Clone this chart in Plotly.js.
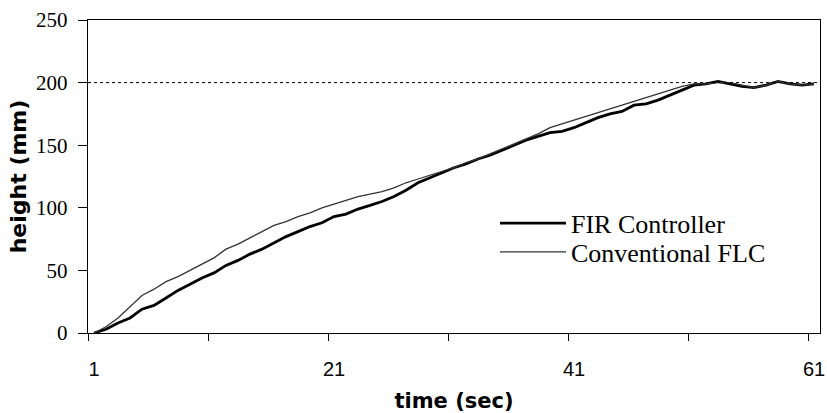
<!DOCTYPE html>
<html>
<head>
<meta charset="utf-8">
<script src="https://cdn.plot.ly/plotly-3.0.1.min.js"></script>
<style>html,body{margin:0;padding:0;background:#fff;}#chart{width:827px;height:413px;}</style>
</head>
<body>
<div id="chart"></div>
<script>
// time (sec) categories
const timeSec = [1,2,3,4,5,6,7,8,9,10,11,12,13,14,15,16,17,18,19,20,21,22,23,24,25,26,27,28,29,30,31,32,33,34,35,36,37,38,39,40,41,42,43,44,45,46,47,48,49,50,51,52,53,54,55,56,57,58,59,60,61];
// height (mm) - FIR Controller
const firController = [0,3,8,12,19,22,28,34,39,44,48,54,58,63,67,72,77,81,85,88,93,95,99,102,105,109,114,120,124,128,132,135,139,142,146,150,154,157,160,161,164,168,172,175,177,182,183,186,190,194,198,199,201,199,197,196,198,201,199,198,199];
// height (mm) - Conventional FLC
const conventionalFLC = [0,5,12,21,30,35,41,45,50,55,60,67,71,76,81,86,89,93,96,100,103,106,109,111,113,116,120,123,126,129,132,136,139,143,147,151,155,159,164,167,170,173,176,179,182,185,188,191,194,197,199,199,200,200,198,196,198,201,199,198,199];
const setpoint = 200;
const xLabelVals = [1,21,41,61];
const xTickVals = [0.5,10.5,20.5,30.5,40.5,50.5,60.5];
const yTickVals = [0,50,100,150,200,250];

const legendFont = {family: 'Liberation Serif', size: 26, color: '#000'};

const traces = [
  {x: timeSec, y: firController, type: 'scatter', mode: 'lines', name: 'FIR Controller',
   line: {color: '#000', width: 2.8}, xaxis: 'x', yaxis: 'y', legend: 'legend'},
  {x: timeSec, y: conventionalFLC, type: 'scatter', mode: 'lines', name: 'Conventional FLC',
   line: {color: '#333', width: 1.3}, xaxis: 'x', yaxis: 'y', legend: 'legend2'}
];
// dummy trace to activate xaxis2 labels
traces.push({x: [xLabelVals[0]], y: [null], xaxis: 'x2', yaxis: 'y', showlegend: false, hoverinfo: 'skip', type: 'scatter', mode: 'lines'});

const layout = {
  width: 827, height: 413,
  margin: {l: 88, r: 7, t: 20, b: 80},
  paper_bgcolor: '#fff', plot_bgcolor: '#fff',
  showlegend: true,
  legend: {x: 0.556, y: 0.351, xanchor: 'left', yanchor: 'middle',
    font: legendFont, bgcolor: 'rgba(0,0,0,0)', itemwidth: 66},
  legend2: {x: 0.556, y: 0.259, xanchor: 'left', yanchor: 'middle',
    font: legendFont, bgcolor: 'rgba(0,0,0,0)', itemwidth: 66},
  xaxis: {range: [0.5, 61.5], tickmode: 'array', tickvals: xTickVals, ticktext: xTickVals.map(() => ''),
    ticks: 'outside', ticklen: 7, tickcolor: '#000', tickwidth: 1,
    showline: true, linecolor: '#000', linewidth: 1.3, mirror: true,
    showgrid: false, zeroline: false, fixedrange: true},
  xaxis2: {range: [0.5, 61.5], overlaying: 'x', anchor: 'y', side: 'bottom',
    tickmode: 'array', tickvals: xLabelVals, ticktext: xLabelVals.map(String),
    ticks: '', showline: false, showgrid: false, zeroline: false,
    tickfont: {family: 'Liberation Sans', size: 20, color: '#000'}, ticklabelstandoff: 22,
    title: {text: 'time (sec)', font: {family: 'DejaVu Sans', size: 21, color: '#000', weight: 'bold'}, standoff: 14}},
  yaxis: {range: [0, 250], tickmode: 'array', tickvals: yTickVals,
    ticks: 'outside', ticklen: 9, tickcolor: '#000', tickwidth: 1,
    showline: true, linecolor: '#000', linewidth: 1.3, mirror: true,
    showgrid: false, zeroline: false, ticklabelstandoff: 6,
    tickfont: {family: 'Liberation Serif', size: 21, color: '#000'},
    title: {text: 'height (mm)', font: {family: 'DejaVu Sans', size: 22, color: '#000', weight: 'bold'}, standoff: 3}},
  shapes: [
    {type: 'line', xref: 'paper', x0: 0, x1: 1, yref: 'y', y0: setpoint, y1: setpoint,
     line: {color: '#000', width: 1, dash: 'dot'}}
  ]
};

Plotly.newPlot('chart', traces, layout, {staticPlot: true, displayModeBar: false});
</script>
</body>
</html>
